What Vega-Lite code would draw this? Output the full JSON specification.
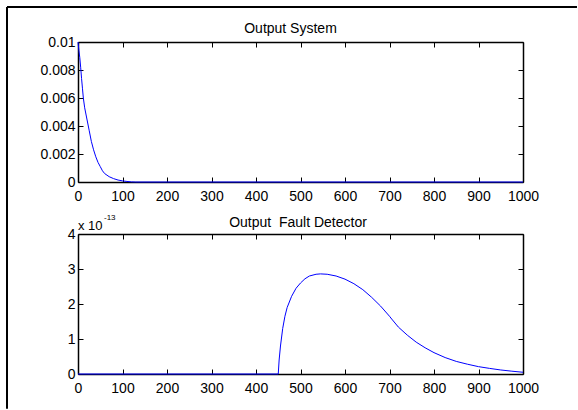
{
  "$schema": "https://vega.github.io/schema/vega-lite/v6.json",
  "background": "white",
  "padding": {"left": 6, "top": 6, "right": 0, "bottom": 0},
  "autosize": {"type": "pad"},
  "bounds": "flush",
  "spacing": 52,
  "config": {
    "font": "Liberation Sans",
    "view": {"stroke": null},
    "axis": {
      "grid": false,
      "domainColor": "black",
      "domainWidth": 1.5,
      "tickColor": "black",
      "tickWidth": 1,
      "tickSize": -5,
      "labelFont": "Liberation Sans",
      "labelFontSize": 14,
      "labelColor": "black",
      "labelFlush": false,
      "labelOverlap": false,
      "labelBound": false
    },
    "axisX": {"labelPadding": 12},
    "axisY": {"labelPadding": 8},
    "title": {
      "font": "Liberation Sans",
      "fontSize": 14,
      "fontWeight": "normal",
      "color": "black",
      "anchor": "middle",
      "frame": "group",
      "baseline": "alphabetic"
    }
  },
  "datasets": {
    "system": [
      {"t": 0, "output": 0.0100},
      {"t": 2, "output": 0.0094},
      {"t": 4, "output": 0.0089},
      {"t": 6, "output": 0.0082},
      {"t": 8, "output": 0.0074},
      {"t": 10, "output": 0.0067},
      {"t": 12, "output": 0.0060},
      {"t": 15, "output": 0.0053},
      {"t": 20, "output": 0.0045},
      {"t": 25, "output": 0.0037},
      {"t": 30, "output": 0.0029},
      {"t": 35, "output": 0.0023},
      {"t": 40, "output": 0.0018},
      {"t": 45, "output": 0.0014},
      {"t": 50, "output": 0.0011},
      {"t": 55, "output": 0.0008},
      {"t": 60, "output": 0.0006},
      {"t": 70, "output": 0.00038},
      {"t": 80, "output": 0.00024},
      {"t": 90, "output": 0.00014},
      {"t": 100, "output": 0.00008},
      {"t": 110, "output": 0.00004},
      {"t": 120, "output": 0.00001},
      {"t": 130, "output": 0},
      {"t": 1000, "output": 0}
    ],
    "detector": [
      {"t": 0, "output_e13": 0},
      {"t": 450, "output_e13": 0},
      {"t": 452, "output_e13": 0.4},
      {"t": 455, "output_e13": 0.8},
      {"t": 460, "output_e13": 1.3},
      {"t": 465, "output_e13": 1.65},
      {"t": 470, "output_e13": 1.9},
      {"t": 480, "output_e13": 2.22},
      {"t": 490, "output_e13": 2.45},
      {"t": 500, "output_e13": 2.6},
      {"t": 510, "output_e13": 2.72},
      {"t": 520, "output_e13": 2.8},
      {"t": 535, "output_e13": 2.85},
      {"t": 545, "output_e13": 2.86},
      {"t": 560, "output_e13": 2.85},
      {"t": 580, "output_e13": 2.8},
      {"t": 600, "output_e13": 2.71},
      {"t": 620, "output_e13": 2.58},
      {"t": 640, "output_e13": 2.41},
      {"t": 660, "output_e13": 2.19},
      {"t": 680, "output_e13": 1.94},
      {"t": 700, "output_e13": 1.65},
      {"t": 705, "output_e13": 1.57},
      {"t": 720, "output_e13": 1.34},
      {"t": 740, "output_e13": 1.11},
      {"t": 760, "output_e13": 0.91},
      {"t": 780, "output_e13": 0.75},
      {"t": 800, "output_e13": 0.61},
      {"t": 825, "output_e13": 0.47},
      {"t": 850, "output_e13": 0.36},
      {"t": 875, "output_e13": 0.28},
      {"t": 900, "output_e13": 0.21},
      {"t": 925, "output_e13": 0.16},
      {"t": 950, "output_e13": 0.115},
      {"t": 975, "output_e13": 0.08},
      {"t": 1000, "output_e13": 0.05}
    ]
  },
  "vconcat": [
    {
      "width": 445,
      "height": 140,
      "title": {"text": "Output System", "dx": -10, "offset": -30},
      "data": {"name": "system"},
      "layer": [
        {
          "mark": {"type": "line", "color": "#0000ff", "strokeWidth": 1},
          "encoding": {
            "x": {"field": "t", "type": "quantitative", "title": null,
                  "scale": {"domain": [0, 1000], "nice": false},
                  "axis": {"orient": "bottom", "format": "d", "values": [0,100,200,300,400,500,600,700,800,900,1000]}},
            "y": {"field": "output", "type": "quantitative", "title": null,
                  "scale": {"domain": [0, 0.01], "nice": false},
                  "axis": {"orient": "left", "values": [0,0.002,0.004,0.006,0.008,0.01], "format": "~g"}}
          }
        },
        {
          "mark": {"type": "line", "strokeOpacity": 0},
          "encoding": {
            "x": {"field": "t", "type": "quantitative", "title": null,
                  "scale": {"domain": [0, 1000], "nice": false},
                  "axis": {"orient": "top", "labels": false, "values": [0,100,200,300,400,500,600,700,800,900,1000]}},
            "y": {"field": "output", "type": "quantitative", "title": null,
                  "scale": {"domain": [0, 0.01], "nice": false},
                  "axis": {"orient": "right", "labels": false, "values": [0,0.002,0.004,0.006,0.008,0.01]}}
          }
        },
        {
          "data": {"values": [{}]},
          "mark": {"type": "rule", "color": "black", "strokeWidth": 2},
          "encoding": {
            "x": {"datum": -159.55, "type": "quantitative", "axis": null, "scale": {"domain": [0, 1000], "nice": false}},
            "y": {"datum": 0.0125, "type": "quantitative", "axis": null, "scale": {"domain": [0, 0.01], "nice": false}},
            "y2": {"datum": -0.0162}
          }
        },
        {
          "data": {"values": [{}]},
          "mark": {"type": "rule", "color": "black", "strokeWidth": 2},
          "encoding": {
            "x": {"datum": -159.55, "type": "quantitative", "axis": null, "scale": {"domain": [0, 1000], "nice": false}},
            "x2": {"datum": 1121.3},
            "y": {"datum": 0.0125, "type": "quantitative", "axis": null, "scale": {"domain": [0, 0.01], "nice": false}}
          }
        }
      ],
      "resolve": {"axis": {"x": "independent", "y": "independent"}}
    },
    {
      "width": 445,
      "height": 140,
      "title": {"text": "Output\u00a0 Fault Detector", "dx": -2.5, "offset": -16},
      "data": {"name": "detector"},
      "layer": [
        {
          "mark": {"type": "line", "color": "#0000ff", "strokeWidth": 1},
          "encoding": {
            "x": {"field": "t", "type": "quantitative", "title": null,
                  "scale": {"domain": [0, 1000], "nice": false},
                  "axis": {"orient": "bottom", "format": "d", "values": [0,100,200,300,400,500,600,700,800,900,1000]}},
            "y": {"field": "output_e13", "type": "quantitative", "title": null,
                  "scale": {"domain": [0, 4], "nice": false},
                  "axis": {"orient": "left", "values": [0,1,2,3,4]}}
          }
        },
        {
          "mark": {"type": "line", "strokeOpacity": 0},
          "encoding": {
            "x": {"field": "t", "type": "quantitative", "title": null,
                  "scale": {"domain": [0, 1000], "nice": false},
                  "axis": {"orient": "top", "labels": false, "values": [0,100,200,300,400,500,600,700,800,900,1000]}},
            "y": {"field": "output_e13", "type": "quantitative", "title": null,
                  "scale": {"domain": [0, 4], "nice": false},
                  "axis": {"orient": "right", "labels": false, "values": [0,1,2,3,4]}}
          }
        },
        {
          "data": {"values": [{}]},
          "mark": {"type": "text", "text": "x 10", "align": "left", "baseline": "alphabetic", "fontSize": 13, "dy": -4, "color": "black"},
          "encoding": {
            "x": {"datum": 0, "type": "quantitative", "axis": null, "scale": {"domain": [0, 1000], "nice": false}},
            "y": {"datum": 4, "type": "quantitative", "axis": null, "scale": {"domain": [0, 4], "nice": false}}
          }
        },
        {
          "data": {"values": [{}]},
          "mark": {"type": "text", "text": "-13", "align": "left", "baseline": "alphabetic", "fontSize": 8, "dx": 26, "dy": -14.5, "color": "black"},
          "encoding": {
            "x": {"datum": 0, "type": "quantitative", "axis": null, "scale": {"domain": [0, 1000], "nice": false}},
            "y": {"datum": 4, "type": "quantitative", "axis": null, "scale": {"domain": [0, 4], "nice": false}}
          }
        }
      ],
      "resolve": {"axis": {"x": "independent", "y": "independent"}}
    }
  ]
}
